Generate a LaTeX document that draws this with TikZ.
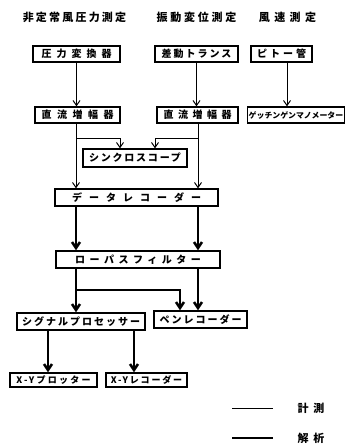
\documentclass[tikz,border=0pt]{standalone}
\usepackage{fontspec}
\newfontfamily\jpfont{Noto Sans CJK JP}
\usepackage{tikz}
\usetikzlibrary{arrows.meta}

\tikzset{
  txt/.style 2 args={font=\jpfont\bfseries\addfontfeatures{LetterSpace=#2}\fontsize{#1}{#1}\selectfont},
  box/.style={draw, line width=1.3pt, inner sep=0pt, minimum height=16pt},
  meas/.style={line width=1pt, -{Straight Barb[length=5pt,width=7pt]}},
  anal/.style={line width=2.6pt, -{Straight Barb[length=6pt,width=8pt]}},
}

\begin{document}
\begin{tikzpicture}[x=1pt, y=-1pt]
  \useasboundingbox (0,0) rectangle (346,444);
  % ------- headings -------
  \node[txt={11}{20}] (h1) at (74.5,17) {非定常風圧力測定};
  \node[txt={11}{25}] (h2) at (196.5,17) {振動変位測定};
  \node[txt={11}{40}] (h3) at (287.5,17) {風速測定};
  % ------- sensors and amplifiers -------
  \node[box, txt={10}{50}, minimum width=87pt] (p1) at (76.5,54) {圧力変換器};
  \node[box, txt={10}{20}, minimum width=83pt] (dt) at (196.5,54) {差動トランス};
  \node[box, txt={10}{30}, minimum width=61pt] (pt) at (281.5,54) {ピトー管};
  \node[box, txt={10}{55}, minimum width=85pt] (amp1) at (77.5,115) {直流増幅器};
  \node[box, txt={10}{45}, minimum width=81pt] (amp2) at (197.5,115) {直流増幅器};
  \node[box, txt={7.9}{0}, minimum width=97pt] (gm) at (296,115) {ゲッチンゲンマノメーター};
  % ------- recording -------
  \node[box, txt={10}{18}, minimum width=104pt, minimum height=18pt] (sync) at (135,158) {シンクロスコープ};
  \node[box, txt={10}{70}, minimum width=163pt, minimum height=17pt] (dr) at (136.5,197.5) {データレコーダー};
  % ------- analysis -------
  \node[box, txt={10}{45}, minimum width=164pt, minimum height=17pt] (lp) at (138,259.5) {ローパスフィルター};
  \node[box, txt={10}{20}, minimum width=128pt, minimum height=17pt] (sp) at (81,321.5) {シグナルプロセッサー};
  \node[box, txt={10}{20}, minimum width=93pt, minimum height=17pt] (pr) at (200.5,319.5) {ペンレコーダー};
  \node[box, txt={9}{25}, minimum width=87pt, minimum height=14pt] (xyp) at (53.5,380) {X-Yプロッター};
  \node[box, txt={9}{20}, minimum width=81pt, minimum height=14pt] (xyr) at (146.5,380) {X-Yレコーダー};
  % ------- measuring lines -------
  \coordinate (cl) at (76,0);
  \coordinate (cr) at (198,0);
  \coordinate (b1) at (0,138);
  \coordinate (b2) at (0,290);
  \draw[meas] (p1.south) -- (p1.south |- amp1.north);
  \draw[meas] (dt.south) -- (dt.south |- amp2.north);
  \draw[meas] ([xshift=5.5pt]pt.south) -- ([xshift=5.5pt]pt.south |- gm.north);
  \draw[meas] (amp1.south -| cl) -- (dr.north -| cl);
  \draw[meas] (amp2.south -| cr) -- (dr.north -| cr);
  \draw[meas] (b1 -| cl) -| ([xshift=-15pt]sync.north);
  \draw[meas] (b1 -| cr) -| ([xshift=20pt]sync.north);
  % ------- analysing lines -------
  \draw[anal] (dr.south -| cl) -- (lp.north -| cl);
  \draw[anal] (dr.south -| cr) -- (lp.north -| cr);
  \draw[anal] (lp.south -| cl) -- (sp.north -| cl);
  \draw[anal] (b2 -| cl) -| ([xshift=-20.5pt]pr.north);
  \draw[anal] (lp.south -| cr) -- (pr.north -| cr);
  \draw[anal] ([xshift=-33pt]sp.south) -- ([xshift=-33pt]sp.south |- xyp.north);
  \draw[anal] ([xshift=53pt]sp.south) -- ([xshift=53pt]sp.south |- xyr.north);
  % ------- legend -------
  \coordinate (l1a) at (232,408);
  \coordinate (l1b) at (273,408);
  \coordinate (l2a) at (232,438);
  \coordinate (l2b) at (273,438);
  \draw[line width=1pt] (l1a) -- (l1b);
  \draw[line width=2.6pt] (l2a) -- (l2b);
  \node[txt={11}{45}] (k1) at (311,408) {計測};
  \node[txt={11}{45}] (k2) at (311,438) {解析};
\end{tikzpicture}
\end{document}
